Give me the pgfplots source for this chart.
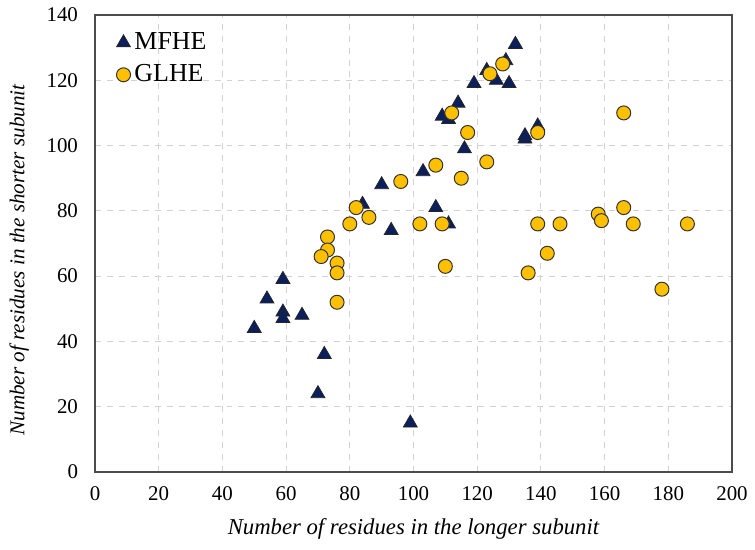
\documentclass[border=0pt]{standalone}
\usepackage{pgfplots}
\pgfplotsset{compat=1.18}
\usepackage{fontspec}
\setmainfont{Liberation Serif}
\definecolor{navy}{HTML}{0A1F5C}
\definecolor{gold}{HTML}{FFC000}
\begin{document}
\begin{tikzpicture}
\begin{axis}[
  scale only axis,
  width=318.5bp, height=228.5bp,
  xmin=0, xmax=200, ymin=0, ymax=140,
  xtick={0,20,...,200}, ytick={0,20,...,140},
  major tick length=0pt,
  grid=major,
  grid style={dashed, gray!35, line width=0.5bp},
  axis line style={black!70, line width=0.7bp},
  /pgf/number format/assume math mode=true,
  tick label style={font=\fontsize{10.5}{12}\selectfont},
  yticklabel style={xshift=-5bp},
  xticklabel style={yshift=-4bp},
  xlabel={\itshape Number of residues in the longer subunit},
  ylabel={\itshape Number of residues in the shorter subunit},
  xlabel style={font=\fontsize{11.4}{13}\selectfont, yshift=-2bp},
  ylabel style={font=\fontsize{10.6}{13}\selectfont, at={(ticklabel cs:0.464)}, yshift=2bp},
  legend style={at={(0.03,0.975)}, anchor=north west, draw=none, fill=none,
    font=\fontsize{13}{15}\selectfont, row sep=2bp, inner sep=1bp},
  legend cell align=left,
]
\addplot[only marks, mark=triangle*, mark size=4bp, mark options={fill=navy, draw=black!85, line width=0.4bp}]
coordinates {
(50,44)(54,53)(59,59)(59,49)(59,47)(65,48)(72,36)(70,24)(99,15)
(84,82)(90,88)(93,74)(103,92)(107,81)(111,76)(109,109)(111,108)
(114,113)(116,99)(119,119)(123,123)(126,120)(129,126)(130,119)
(132,131)(135,102)(135,103)(139,106)
};
\addlegendentry{MFHE}
\addplot[only marks, mark=*, mark size=3.5bp, mark options={fill=gold, draw=black!80, line width=0.5bp}]
coordinates {
(82,81)(86,78)(80,76)(102,76)(109,76)(110,63)(73,72)(73,68)(71,66)
(76,64)(76,61)(76,52)(96,89)(107,94)(115,90)(123,95)(139,76)(146,76)
(142,67)(136,61)(158,79)(159,77)(166,81)(169,76)(186,76)(178,56)
(166,110)(112,110)(117,104)(124,122)(128,125)(139,104)
};
\addlegendentry{GLHE}
\end{axis}
\path (current axis.south west) ++(-47.5bp,-39bp) rectangle ([shift={(11.5bp,7.5bp)}]current axis.north east);
\end{tikzpicture}
\end{document}
